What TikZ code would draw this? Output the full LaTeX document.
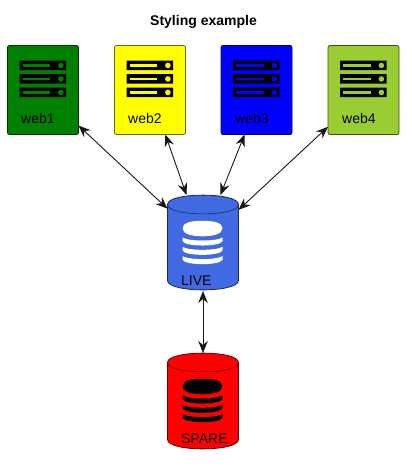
\documentclass[tikz,border=0pt]{standalone}
\usepackage{fontspec}
\setmainfont{Liberation Sans}
\usetikzlibrary{arrows.meta}
\definecolor{arrowc}{HTML}{181818}
\definecolor{royal}{HTML}{4169E1}
\definecolor{ygreen}{HTML}{9ACD32}
\definecolor{pgreen}{HTML}{008000}
\definecolor{pyellow}{HTML}{FFFF00}
\definecolor{pblue}{HTML}{0000FF}
\definecolor{pred}{HTML}{FF0000}
\definecolor{pwhite}{HTML}{FFFFFF}
\definecolor{pblack}{HTML}{000000}
\tikzset{
  box/.style={rectangle,draw=black!60!#1,line width=.8pt,fill=#1,rounded corners=2pt,minimum width=71pt,minimum height=89pt,inner sep=0pt,outer sep=0pt},
  dbanchor/.style={rectangle,minimum width=71pt,minimum height=96pt,inner sep=0pt,outer sep=0pt},
  lbl/.style={anchor=base west,font=\fontsize{14}{16}\selectfont,inner sep=0pt,text=black},
  title/.style={anchor=base,font=\fontsize{14}{16}\selectfont\bfseries,inner sep=0pt},
  link/.style={draw=arrowc,line width=.9pt,{Stealth[length=12pt,width=9.5pt,inset=4pt]}-{Stealth[length=12pt,width=9.5pt,inset=4pt]}},
  pics/server/.style={code={
    \foreach \y in {0,13.5,27}{
      \fill[pblack,rounded corners=.3pt] (0,\y) rectangle (46.5,\y+9.5);
      \fill[#1] (3.3,\y+3.3) rectangle (30.5,\y+6.2);
      \fill[#1] (41.4,\y+4.75) circle (2.8);
    }
  }},
  pics/dbicon/.style={code={
    \fill[#1] (0,8) .. controls (0,2) and (10,0.5) .. (20,0.5) .. controls (30,.5) and (40,2) .. (40,8) .. controls (40,14) and (30,16) .. (20,16) .. controls (10,16) and (0,14) .. (0,8) -- cycle;
    \foreach \y in {17.2,26.5,35.8}{
      \fill[#1] (0,\y) .. controls (6,\y+4) and (34,\y+4) .. (40,\y) -- (40,\y+3.6) .. controls (38,\y+9.5) and (2,\y+9.5) .. (0,\y+3.6) -- cycle;
    }
  }}
}
\newcommand{\cyl}[3]{% top y, colour, bottom y
  \filldraw[draw=black!60!#2,line width=.8pt,fill=#2] (167.5,#1+9.5) .. controls (167.5,#1-3) and (238.5,#1-3) .. (238.5,#1+9.5) -- (238.5,#3-9.5) .. controls (238.5,#3+3) and (167.5,#3+3) .. (167.5,#3-9.5) -- cycle;
  \draw[draw=black!60!#2,line width=.6pt] (167.5,#1+9.5) .. controls (167.5,#1+22) and (238.5,#1+22) .. (238.5,#1+9.5);
}
\begin{document}
\begin{tikzpicture}[x=1pt,y=-1pt]
\useasboundingbox (0,0) rectangle (412,474);
\node[title] (ttl) at (203.5,25) {Styling example};

\node[box=pgreen] (web1) at (43,90) {};
\node[box=pyellow] (web2) at (150,90) {};
\node[box=pblue] (web3) at (256.5,90) {};
\node[box=ygreen] (web4) at (363.5,90) {};

\pic at (19.5,60.7) {server=pgreen};
\pic at (126.5,60.7) {server=pyellow};
\pic at (233,60.7) {server=pblue};
\pic at (340,60.7) {server=ygreen};

\node[lbl] (l1) at (21,123) {web1};
\node[lbl] (l2) at (128,123) {web2};
\node[lbl] (l3) at (235,123) {web3};
\node[lbl] (l4) at (342,123) {web4};

\cyl{195}{royal}{290}
\cyl{353}{pred}{449}
\node[dbanchor] (live) at (203,243) {};
\node[dbanchor] (spare) at (203,401) {};
\pic at (182.5,220.3) {dbicon=pwhite};
\pic at (182.5,378.3) {dbicon=pblack};
\node[lbl] (l5) at (181,285) {LIVE};
\node[lbl] (l6) at (181,443) {SPARE};

\draw[link] (web1.-45.4) -- (live.136.2);
\draw[link] (web2.-71.4) -- (live.109.5);
\draw[link] (web3.-105.7) -- (live.70.5);
\draw[link] (web4.-134.6) -- (live.43.8);
\draw[link] (live.south) -- (spare.north);
\end{tikzpicture}
\end{document}
